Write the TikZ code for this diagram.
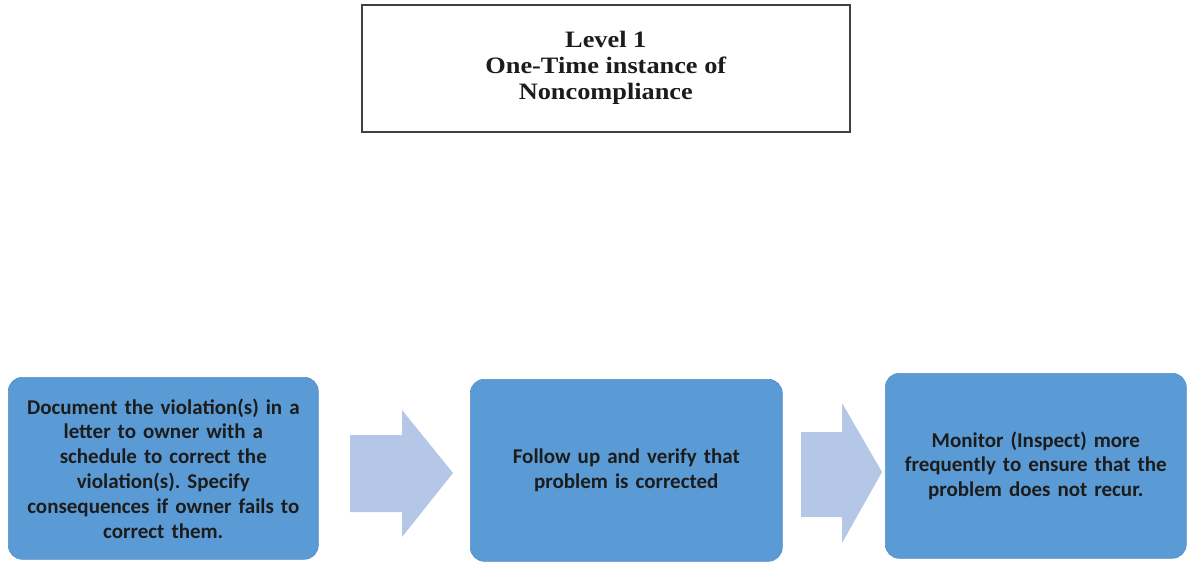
\documentclass[tikz,border=0pt]{standalone}
\usepackage{fontspec}
\setmainfont{Liberation Serif}
\newfontfamily\titlefont[FakeStretch=1.12]{Liberation Serif}
\newfontfamily\boxfont{Carlito}
\definecolor{stepblue}{HTML}{5B9BD5}
\definecolor{flowblue}{HTML}{B4C7E7}
\definecolor{inkdark}{HTML}{1C1C1C}
\begin{document}
\frenchspacing
\begin{tikzpicture}[x=1pt,y=-1pt,
  titlebox/.style={draw=black!75, line width=1.6pt, fill=white, inner sep=0pt,
    align=center, text=inkdark, font=\titlefont\bfseries\fontsize{23.5}{26}\selectfont},
  stepbox/.style={fill=stepblue, draw=stepblue!92!black, line width=0.6pt,
    rounded corners=14pt, inner sep=0pt, align=center, text=inkdark,
    font=\boxfont\bfseries\fontsize{21}{24.8}\selectfont},
  flowarrow/.style={fill=flowblue, draw=none}]
\useasboundingbox (0,0) rectangle (1188,562);

% heading box
\node[titlebox, minimum width=488pt, minimum height=127pt, anchor=north west]
  (title) at (361,4) {Level 1\\One-Time instance of\\Noncompliance};

% the three steps
\node[stepbox, minimum width=310pt, minimum height=182pt, anchor=north west,
  text width=305pt] (doc) at (8,377)
  {Document the violation(s) in a\\letter to owner with a\\schedule to correct the\\violation(s). Specify\\consequences if owner fails to\\correct them.};
\node[stepbox, minimum width=312pt, minimum height=182pt, anchor=north west,
  text width=300pt] (follow) at (470,379)
  {Follow up and verify that\\problem is corrected};
\node[stepbox, minimum width=301pt, minimum height=185pt, anchor=north west,
  text width=295pt] (monitor) at (885,373)
  {Monitor (Inspect) more\\frequently to ensure that the\\problem does not recur.};

% block arrows between the steps
\fill[flowarrow] (350,435) -- (402,435) -- (402,410) -- (453,473)
  -- (402,537) -- (402,512) -- (350,512) -- cycle;
\fill[flowarrow] (801,432) -- (842,432) -- (842,403) -- (882,472)
  -- (842,543) -- (842,517) -- (801,517) -- cycle;
\end{tikzpicture}
\end{document}
